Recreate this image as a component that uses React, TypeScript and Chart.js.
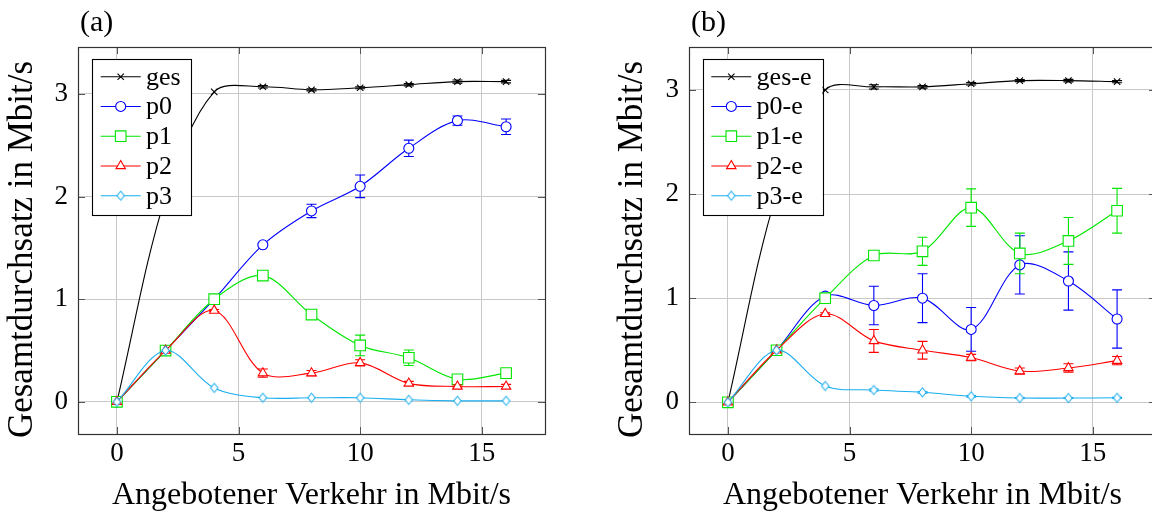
import React, { useEffect, useRef } from "react";
import { Chart, registerables } from "chart.js";
Chart.register(...registerables);

// ---------------- data ----------------
const xValues = [0, 2, 4, 6, 8, 10, 12, 14, 16];
const xTickValues = [0, 5, 10, 15];
const yTickValues = [0, 1, 2, 3];

// panel (a)
const gesA = [0, 2.0, 3.02, 3.07, 3.04, 3.06, 3.09, 3.12, 3.12];
const gesAErr = [0, 0, 0, 0.012, 0.01, 0.01, 0.012, 0.015, 0.012];
const p0A = [0, 0.5, 1.0, 1.53, 1.86, 2.1, 2.47, 2.74, 2.68];
const p0AErr = [0, 0, 0, 0.01, 0.065, 0.11, 0.08, 0.045, 0.075];
const p1A = [0, 0.5, 1.0, 1.23, 0.85, 0.55, 0.43, 0.22, 0.28];
const p1AErr = [0, 0, 0, 0.02, 0.03, 0.1, 0.075, 0.02, 0.03];
const p2A = [0, 0.5, 0.89, 0.28, 0.28, 0.38, 0.18, 0.15, 0.15];
const p2AErr = [0, 0, 0.01, 0.04, 0.025, 0.03, 0.02, 0.015, 0.02];
const p3A = [0, 0.5, 0.136, 0.04, 0.04, 0.04, 0.02, 0.01, 0.01];
const p3AErr = [0, 0, 0, 0, 0, 0, 0, 0, 0];

// panel (b)
const gesB = [0, 2.0, 3.0, 3.03, 3.03, 3.06, 3.09, 3.09, 3.08];
const gesBErr = [0, 0, 0, 0.02, 0.012, 0.012, 0.01, 0.012, 0.01];
const p0B = [0, 0.5, 1.02, 0.93, 1.0, 0.7, 1.32, 1.165, 0.8];
const p0BErr = [0, 0, 0, 0.185, 0.235, 0.21, 0.28, 0.28, 0.28];
const p1B = [0, 0.5, 1.0, 1.41, 1.45, 1.87, 1.43, 1.55, 1.84];
const p1BErr = [0, 0, 0, 0.01, 0.135, 0.18, 0.195, 0.225, 0.215];
const p2B = [0, 0.5, 0.85, 0.59, 0.5, 0.43, 0.3, 0.33, 0.4];
const p2BErr = [0, 0, 0.01, 0.11, 0.085, 0.03, 0.03, 0.04, 0.04];
const p3B = [0, 0.5, 0.157, 0.118, 0.096, 0.058, 0.041, 0.041, 0.043];
const p3BErr = [0, 0, 0, 0.01, 0.008, 0.008, 0.005, 0.005, 0.005];

const labelsA = ["ges", "p0", "p1", "p2", "p3"];
const labelsB = ["ges-e", "p0-e", "p1-e", "p2-e", "p3-e"];

const seriesColors = ["#000000", "#0000ff", "#00e600", "#ff0000", "#1aaef0"];
const seriesMarks = ["cross", "circle", "square", "triangle", "diamond"];

const xTitle = "Angebotener Verkehr in Mbit/s";
const yTitle = "Gesamtdurchsatz in Mbit/s";

const FONT = "'Liberation Serif', 'Times New Roman', serif";

// ---------------- helpers ----------------
const diamondCache: Record<string, HTMLCanvasElement> = {};
function diamondImage(color: string) {
  if (diamondCache[color]) return diamondCache[color];
  const c = document.createElement("canvas");
  c.width = 11;
  c.height = 13;
  const g = c.getContext("2d")!;
  g.beginPath();
  g.moveTo(5.5, 2);
  g.lineTo(9.2, 6.5);
  g.lineTo(5.5, 11);
  g.lineTo(1.8, 6.5);
  g.closePath();
  g.fillStyle = "#ffffff";
  g.fill();
  g.strokeStyle = color;
  g.lineWidth = 1.1;
  g.stroke();
  diamondCache[color] = c;
  return c;
}

function markStyle(mark: string, color: string) {
  switch (mark) {
    case "cross":
      return { pointStyle: "crossRot", radius: 4.5 };
    case "circle":
      return { pointStyle: "circle", radius: 5 };
    case "square":
      return { pointStyle: "rect", radius: 7.5 };
    case "triangle":
      return { pointStyle: "triangle", radius: 5.4 };
    default:
      return { pointStyle: diamondImage(color), radius: 5 };
  }
}

function drawMark(ctx: CanvasRenderingContext2D, mark: string, color: string, x: number, y: number) {
  ctx.save();
  ctx.strokeStyle = color;
  ctx.fillStyle = "#ffffff";
  ctx.lineWidth = 1.1;
  ctx.beginPath();
  if (mark === "cross") {
    const d = 4.5 * Math.SQRT1_2;
    ctx.moveTo(x - d, y - d);
    ctx.lineTo(x + d, y + d);
    ctx.moveTo(x + d, y - d);
    ctx.lineTo(x - d, y + d);
    ctx.stroke();
  } else if (mark === "circle") {
    ctx.arc(x, y, 5, 0, Math.PI * 2);
    ctx.fill();
    ctx.stroke();
  } else if (mark === "square") {
    const s = 7.5 * Math.SQRT1_2;
    ctx.rect(x - s, y - s, 2 * s, 2 * s);
    ctx.fill();
    ctx.stroke();
  } else if (mark === "triangle") {
    const r = 5.4;
    for (let k = 0; k < 3; k++) {
      const a = (k * 2 * Math.PI) / 3;
      const px = x + Math.sin(a) * r;
      const py = y - Math.cos(a) * r;
      if (k === 0) ctx.moveTo(px, py);
      else ctx.lineTo(px, py);
    }
    ctx.closePath();
    ctx.fill();
    ctx.stroke();
  } else {
    const img = diamondImage(color);
    ctx.drawImage(img, x - img.width / 2, y - img.height / 2);
  }
  ctx.restore();
}

// error bars drawn under each dataset's line/markers
const errorBarPlugin = {
  id: "errorBars",
  beforeDatasetDraw(chart: any, args: any) {
    const ds = chart.data.datasets[args.index];
    const errs: number[] | undefined = ds.errorBars;
    if (!errs) return;
    const ys = chart.scales.y;
    const ctx = chart.ctx as CanvasRenderingContext2D;
    ctx.save();
    ctx.strokeStyle = ds.borderColor;
    ctx.lineWidth = 1.1;
    args.meta.data.forEach((pt: any, i: number) => {
      const e = errs[i];
      if (!e) return;
      const v = ds.data[i].y;
      const yTop = ys.getPixelForValue(v + e);
      const yBot = ys.getPixelForValue(v - e);
      const x = pt.x;
      ctx.beginPath();
      ctx.moveTo(x, yTop);
      ctx.lineTo(x, yBot);
      ctx.moveTo(x - 5, yTop);
      ctx.lineTo(x + 5, yTop);
      ctx.moveTo(x - 5, yBot);
      ctx.lineTo(x + 5, yBot);
      ctx.stroke();
    });
    ctx.restore();
  },
};

// axis frame with inner tick marks (pgfplots style)
const framePlugin = {
  id: "frame",
  beforeDatasetsDraw(chart: any) {
    const { ctx, chartArea: a, scales } = chart;
    ctx.save();
    ctx.strokeStyle = "#555555";
    ctx.lineWidth = 1;
    const tl = 7;
    ctx.beginPath();
    scales.x.ticks.forEach((t: any) => {
      const px = Math.round(scales.x.getPixelForValue(t.value)) + 0.5;
      ctx.moveTo(px, a.bottom);
      ctx.lineTo(px, a.bottom - tl);
      ctx.moveTo(px, a.top);
      ctx.lineTo(px, a.top + tl);
    });
    scales.y.ticks.forEach((t: any) => {
      const py = Math.round(scales.y.getPixelForValue(t.value)) + 0.5;
      ctx.moveTo(a.left, py);
      ctx.lineTo(a.left + tl, py);
      ctx.moveTo(a.right, py);
      ctx.lineTo(a.right - tl, py);
    });
    ctx.stroke();
    ctx.strokeStyle = "#333333";
    ctx.lineWidth = 1.2;
    ctx.strokeRect(Math.round(a.left) + 0.5, Math.round(a.top) + 0.5, Math.round(a.right - a.left), Math.round(a.bottom - a.top));
    ctx.restore();
  },
};

// legend box, panel label and y-axis title, drawn on top of everything
const overlayPlugin = {
  id: "overlay",
  afterDraw(chart: any, _args: any, opts: any) {
    const { ctx, chartArea: a } = chart;
    ctx.save();
    // panel label
    ctx.font = `30px ${FONT}`;
    ctx.fillStyle = "#000";
    ctx.textBaseline = "alphabetic";
    ctx.textAlign = "left";
    ctx.fillText(opts.panel, a.left + 2, 31);

    // y-axis title
    ctx.save();
    ctx.font = `35px ${FONT}`;
    ctx.textAlign = "center";
    ctx.textBaseline = "middle";
    ctx.translate(opts.yTitleX, (a.top + a.bottom) / 2 + 9);
    ctx.rotate(-Math.PI / 2);
    ctx.fillText(yTitle, 0, 0);
    ctx.restore();

    // legend
    const labels: string[] = opts.labels;
    ctx.font = `26px ${FONT}`;
    ctx.textAlign = "left";
    const maxW = Math.max(...labels.map((l) => ctx.measureText(l).width));
    const bx = a.left + opts.legendDx;
    const by = a.top + 12.3;
    const textX = 53.7;
    const bw = textX + maxW + 11;
    const rowStep = 29.75;
    const bh = 156.4;
    ctx.fillStyle = "#ffffff";
    ctx.fillRect(bx, by, bw, bh);
    ctx.strokeStyle = "#000000";
    ctx.lineWidth = 1.1;
    ctx.strokeRect(Math.round(bx) + 0.5, Math.round(by) + 0.5, Math.round(bw), Math.round(bh));
    labels.forEach((lab, i) => {
      const cy = by + 17.4 + i * rowStep;
      const color = seriesColors[i];
      ctx.strokeStyle = color;
      ctx.lineWidth = 1.1;
      ctx.beginPath();
      ctx.moveTo(bx + 8.4, cy);
      ctx.lineTo(bx + 48.4, cy);
      ctx.stroke();
      drawMark(ctx, seriesMarks[i], color, bx + 28.4, cy);
      ctx.fillStyle = "#000";
      ctx.textBaseline = "middle";
      ctx.fillText(lab, bx + textX, cy + 1);
    });
    ctx.restore();
  },
};

function buildConfig(opts: {
  series: number[][];
  errors: number[][];
  labels: string[];
  panel: string;
  yMin: number;
  yMax: number;
  yWidth: number;
  padRight: number;
  yTitleX: number;
  legendDx: number;
}) {
  const datasets = opts.series.map((vals, i) => {
    const color = seriesColors[i];
    const m = markStyle(seriesMarks[i], color);
    return {
      label: opts.labels[i],
      data: xValues.map((x, k) => ({ x, y: vals[k] })),
      errorBars: opts.errors[i],
      borderColor: color,
      backgroundColor: color,
      borderWidth: 1.1,
      tension: 0.33,
      pointStyle: m.pointStyle,
      pointRadius: m.radius,
      pointBackgroundColor: "#ffffff",
      pointBorderColor: color,
      pointBorderWidth: 1.1,
      order: opts.series.length - i,
      clip: false,
    };
  });
  const tickFont = { family: FONT, size: 27 };
  return {
    type: "line",
    data: { datasets },
    options: {
      responsive: false,
      maintainAspectRatio: false,
      animation: false,
      events: [],
      layout: { padding: { left: 0, right: opts.padRight, top: 47, bottom: 0 }, autoPadding: false },
      plugins: {
        legend: { display: false },
        tooltip: { enabled: false },
        overlay: { panel: opts.panel, labels: opts.labels, legendDx: opts.legendDx, yTitleX: opts.yTitleX },
      },
      scales: {
        x: {
          type: "linear",
          min: -1.6,
          max: 17.6,
          afterBuildTicks: (s: any) => {
            s.ticks = xTickValues.map((v) => ({ value: v }));
          },
          afterFit: (s: any) => {
            s.height = 79;
          },
          grid: { color: "#c8c8c8", lineWidth: 1, drawTicks: false },
          border: { display: false },
          ticks: {
            font: tickFont,
            color: "#000",
            padding: 4,
            maxRotation: 0,
            autoSkip: false,
            callback: (v: any) => String(v),
          },
          title: {
            display: true,
            text: xTitle,
            font: { family: FONT, size: 32, lineHeight: 1.2 },
            color: "#000",
            padding: { top: 0, bottom: -2 },
          },
        },
        y: {
          type: "linear",
          min: opts.yMin,
          max: opts.yMax,
          afterBuildTicks: (s: any) => {
            s.ticks = yTickValues.map((v) => ({ value: v }));
          },
          afterFit: (s: any) => {
            s.width = opts.yWidth;
          },
          grid: { color: "#c8c8c8", lineWidth: 1, drawTicks: false },
          border: { display: false },
          ticks: {
            font: tickFont,
            color: "#000",
            padding: 10,
            autoSkip: false,
            callback: (v: any) => String(v),
          },
          title: { display: false },
        },
      },
    },
    plugins: [errorBarPlugin, framePlugin, overlayPlugin],
  };
}

export default function App() {
  const refA = useRef<HTMLCanvasElement>(null);
  const refB = useRef<HTMLCanvasElement>(null);

  useEffect(() => {
    const chartA = new Chart(
      refA.current!,
      buildConfig({
        series: [gesA, p0A, p1A, p2A, p3A],
        errors: [gesAErr, p0AErr, p1AErr, p2AErr, p3AErr],
        labels: labelsA,
        panel: "(a)",
        yMin: -0.313,
        yMax: 3.457,
        yWidth: 78,
        padRight: 31,
        yTitleX: 22.4,
        legendDx: 14.3,
      }) as any
    );
    const chartB = new Chart(
      refB.current!,
      buildConfig({
        series: [gesB, p0B, p1B, p2B, p3B],
        errors: [gesBErr, p0BErr, p1BErr, p2BErr, p3BErr],
        labels: labelsB,
        panel: "(b)",
        yMin: -0.3045,
        yMax: 3.413,
        yWidth: 113,
        padRight: 20,
        yTitleX: 56.4,
        legendDx: 13.9,
      }) as any
    );
    return () => {
      chartA.destroy();
      chartB.destroy();
    };
  }, []);

  return (
    <div
      style={{
        position: "fixed",
        left: 0,
        top: 0,
        width: 1152,
        height: 513,
        overflow: "hidden",
        background: "#ffffff",
      }}
    >
      <canvas
        ref={refA}
        width={576}
        height={513}
        style={{ position: "absolute", left: 0, top: 0, width: 576, height: 513 }}
      />
      <canvas
        ref={refB}
        width={600}
        height={513}
        style={{ position: "absolute", left: 576, top: 0, width: 600, height: 513 }}
      />
    </div>
  );
}
